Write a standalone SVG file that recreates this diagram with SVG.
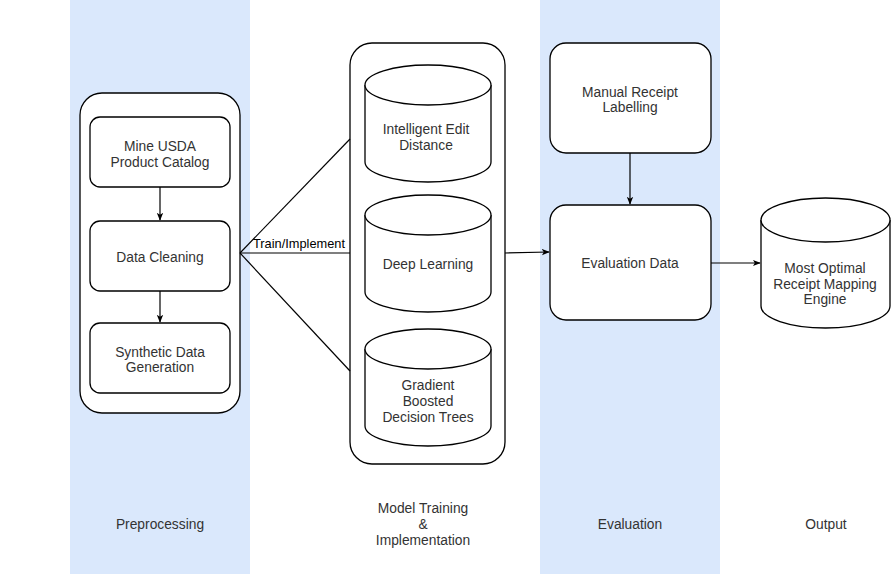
<svg xmlns="http://www.w3.org/2000/svg" width="891" height="574" viewBox="0 0 891 574">
<style>
.lane{fill:#dae8fc;stroke:none}
.box{fill:#fff;stroke:#000;stroke-width:1.3}
.t{font-family:"Liberation Sans",Arial,sans-serif;font-size:13.8px;fill:#333;text-anchor:middle}
.el{font-family:"Liberation Sans",Arial,sans-serif;font-size:12.8px;fill:#000}
.c{fill:none;stroke:#000;stroke-width:1.2}
</style>
<defs>
<marker id="ah" viewBox="0 0 10 10" refX="9" refY="5" markerWidth="8" markerHeight="8" orient="auto" markerUnits="userSpaceOnUse">
<path d="M0,1 L10,5 L0,9 L2.5,5 Z" fill="#000"/>
</marker>
</defs>
<rect width="891" height="574" fill="#fff"/>
<rect class="lane" x="70" y="0" width="180" height="574"/>
<rect class="lane" x="540" y="0" width="180" height="574"/>

<g id="preprocessing-group">
<rect class="box" x="80" y="93" width="160" height="320" rx="22"/>
</g>
<g id="model-group">
<rect class="box" x="350" y="43" width="155" height="421" rx="22"/>
</g>

<g id="connectors">
<line class="c" x1="160" y1="187" x2="160" y2="220" marker-end="url(#ah)"/>
<line class="c" x1="160" y1="291" x2="160" y2="322" marker-end="url(#ah)"/>
<line class="c" x1="240" y1="253" x2="350" y2="139" stroke-width="0.9"/>
<line class="c" x1="240" y1="253" x2="350" y2="253"/>
<line class="c" x1="240" y1="253" x2="350" y2="371" stroke-width="0.9"/>
<text class="el" x="253" y="248">Train/Implement</text>
<line class="c" x1="505" y1="253" x2="549" y2="252" marker-end="url(#ah)"/>
<line class="c" x1="630" y1="153" x2="630" y2="204" marker-end="url(#ah)"/>
<line class="c" x1="711" y1="263" x2="760" y2="263" marker-end="url(#ah)"/>
</g>

<g id="mine-usda">
<rect class="box" x="90" y="117" width="140" height="70" rx="10"/>
<text class="t" x="160" y="151">Mine USDA</text>
<text class="t" x="160" y="167">Product Catalog</text>
</g>
<g id="data-cleaning">
<rect class="box" x="90" y="221" width="140" height="70" rx="10"/>
<text class="t" x="160" y="262">Data Cleaning</text>
</g>
<g id="synthetic-data">
<rect class="box" x="90" y="323" width="140" height="70" rx="10"/>
<text class="t" x="160" y="357">Synthetic Data</text>
<text class="t" x="160" y="372">Generation</text>
</g>

<g id="intelligent-edit">
<path class="box" d="M365,85 A63,20 0 0 1 491,85 L491,162 A63,20 0 0 1 365,162 Z"/>
<path class="box" fill="none" d="M365,85 A63,20 0 0 0 491,85"/>
<text class="t" x="426" y="134">Intelligent Edit</text>
<text class="t" x="426" y="150">Distance</text>
</g>
<g id="deep-learning">
<path class="box" d="M365,215 A63,20 0 0 1 491,215 L491,292 A63,20 0 0 1 365,292 Z"/>
<path class="box" fill="none" d="M365,215 A63,20 0 0 0 491,215"/>
<text class="t" x="428" y="269">Deep Learning</text>
</g>
<g id="gbdt">
<path class="box" d="M365,349 A63,20 0 0 1 491,349 L491,426 A63,20 0 0 1 365,426 Z"/>
<path class="box" fill="none" d="M365,349 A63,20 0 0 0 491,349"/>
<text class="t" x="428" y="390">Gradient</text>
<text class="t" x="428" y="406">Boosted</text>
<text class="t" x="428" y="422">Decision Trees</text>
</g>

<g id="manual-labelling">
<rect class="box" x="550" y="43" width="161" height="110" rx="16"/>
<text class="t" x="630" y="97">Manual Receipt</text>
<text class="t" x="630" y="112">Labelling</text>
</g>
<g id="evaluation-data">
<rect class="box" x="550" y="205" width="161" height="115" rx="16"/>
<text class="t" x="630" y="268">Evaluation Data</text>
</g>

<g id="output-engine">
<path class="box" d="M761,220 A64.5,22 0 0 1 890,220 L890,306 A64.5,22 0 0 1 761,306 Z"/>
<path class="box" fill="none" d="M761,220 A64.5,22 0 0 0 890,220"/>
<text class="t" x="825" y="273">Most Optimal</text>
<text class="t" x="825" y="289">Receipt Mapping</text>
<text class="t" x="825" y="304">Engine</text>
</g>

<g id="lane-labels">
<text class="t" x="160" y="529">Preprocessing</text>
<text class="t" x="423" y="513">Model Training</text>
<text class="t" x="423" y="529">&amp;</text>
<text class="t" x="423" y="545">Implementation</text>
<text class="t" x="630" y="529">Evaluation</text>
<text class="t" x="826" y="529">Output</text>
</g>
</svg>
